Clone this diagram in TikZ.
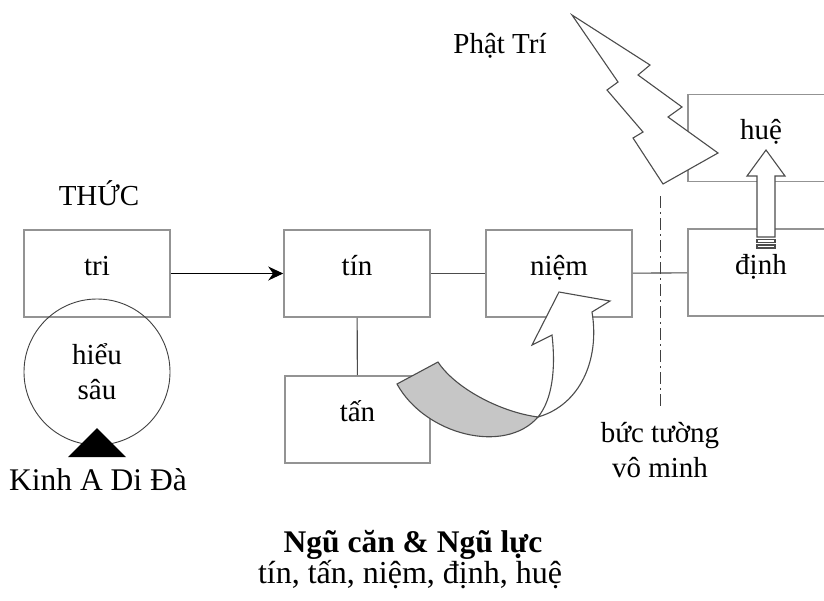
\documentclass[tikz,border=0pt]{standalone}
\usepackage{fontspec}
\setmainfont{Liberation Serif}
\usepackage{tikz}
\usetikzlibrary{arrows.meta}

\tikzset{
  every node/.style={font=\fontsize{29}{35}\selectfont},
  box/.style={draw=gray!85, line width=1.6pt, minimum width=146pt,
    minimum height=87pt, text height=20pt, text depth=17pt},
  link/.style={draw=black!70, line width=1.1pt},
  outline/.style={draw=black!70, line width=1.1pt}
}

\begin{document}
\begin{tikzpicture}[x=1pt,y=-1pt]
\useasboundingbox (0,0) rectangle (824,600);
\clip (0,0) rectangle (824,600);
% boxes
\node[box] (tri) at (97,273.5){tri};
\node[box] (tin) at (357,273.5){tín};
\node[box] (niem) at (559,273.5){niệm};
\node[box] (dinh) at (761,272.5){định};
\node[box] (hue) at (761,138){huệ};
\node[box,minimum width=145pt] (tan) at (357.5,419.5){tấn};
\node[circle,draw=black!75,line width=0.9pt,minimum size=146pt,inner sep=0pt,align=center]
  (hieu) at (97,372){hiểu\\sâu};
% labels
\node[anchor=base] (thuc) at (99,205){THỨC};
\node[anchor=base,font=\fontsize{31.5}{35}\selectfont] (kinh) at (98,490){Kinh A Di Đà};
\node[anchor=base] (phattri) at (500,53){Phật Trí};
\node[anchor=base] (buctuong) at (660,442){bức tường};
\node[anchor=base] (vominh) at (660,477){vô minh};
\node[anchor=base,inner sep=0pt,text depth=0pt,font=\fontsize{31.5}{35}\selectfont\bfseries]
  (title) at (413,552){Ngũ căn \& Ngũ lực};
\node[anchor=base,inner sep=0pt,font=\fontsize{32}{35}\selectfont] (subtitle) at (410,583){tín, tấn, niệm, định, huệ};
% connectors
\draw[line width=1.1pt,-{Stealth[length=15pt,width=14pt]}] (tri) -- (tin);
\foreach \from/\to in {tin/niem,niem/dinh,tin/tan}
  \draw[link] (\from) -- (\to);
% wall
\draw[black!75,line width=1pt,dash pattern=on 12pt off 4pt on 2pt off 4pt] (660,196) -- (660,408);
% triangle under the circle
\fill (97,428) -- (126,457) -- (68,457) -- cycle;
% lightning
\filldraw[outline,fill=white] (572,15) -- (650,65) -- (638,75) -- (682,107) -- (668,117)
  -- (718,153) -- (663,184) -- (633,138) -- (643,132) -- (607,90) -- (618,82) -- cycle;
% arrow up from dinh to hue
\filldraw[outline,fill=white] (757,237) -- (757,176) -- (747,176) -- (766,150) -- (785,176)
  -- (775,176) -- (775,237) -- cycle;
\filldraw[outline,fill=white] (757,239.5) rectangle (775,242.5);
\filldraw[outline,fill=white] (757,245) rectangle (775,248);
% curved arrow from tan to niem
\filldraw[outline,fill=gray!45] (397,384) -- (438,362) .. controls (455,388) and (500,412) .. (538,417)
  .. controls (505,455) and (425,435) .. cycle;
\filldraw[outline,fill=white] (538,417) .. controls (580,405) and (600,360) .. (592,312)
  -- (610,301) -- (559,292) -- (532,345) -- (552,335)
  .. controls (556,370) and (552,400) .. (538,417) -- cycle;
\end{tikzpicture}
\end{document}
